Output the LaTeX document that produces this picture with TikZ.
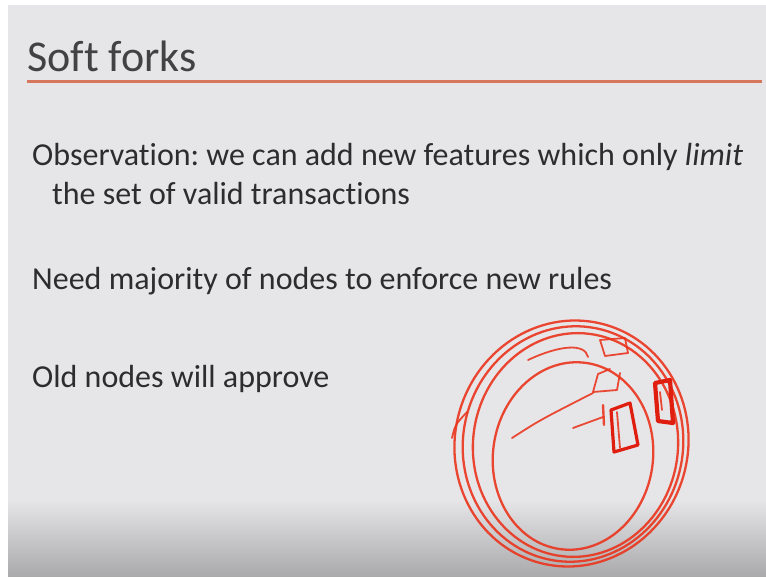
\documentclass[tikz,border=0pt]{standalone}
\usepackage{fontspec}
\setmainfont{Carlito}[Ligatures=NoCommon]
\frenchspacing
\definecolor{slidebg}{RGB}{230,230,233}
\definecolor{slidebot}{RGB}{170,170,172}
\definecolor{txt}{RGB}{45,45,48}
\definecolor{rule}{RGB}{214,118,92}
\definecolor{ink}{RGB}{234,52,28}
\definecolor{inkdark}{RGB}{224,30,15}
\tikzset{
  bodytext/.style={anchor=base west, inner sep=0pt, text=txt, font=\fontsize{32}{38}\selectfont},
  titletext/.style={anchor=base west, inner sep=0pt, text=txt!90, font=\fontsize{44}{52}\selectfont},
  loop/.style={draw=ink, line width=2.3pt, opacity=0.9},
  stroke/.style={draw=ink, line width=1.8pt, opacity=0.88, line cap=round, line join=round},
  boxstroke/.style={draw=inkdark, line width=3.2pt, line cap=round, line join=round},
}
\begin{document}
\begin{tikzpicture}[x=1pt,y=-1pt]
\useasboundingbox (0,0) rectangle (766,578);
\fill[white] (0,0) rectangle (766,578);
\fill[slidebg] (8,5) rectangle (766,500);
\shade[top color=slidebg, bottom color=slidebot] (8,499.5) rectangle (766,576);
% title and rule
\node[titletext] (title) at (27,72) {Soft forks};
\coordinate (ruleL) at (27,82);
\coordinate (ruleR) at (762,82);
\draw[rule, line width=3pt] (ruleL) -- (ruleR);
% body
\node[bodytext] (obs1) at (32,165) {Observation: we can add new features which only \textit{limit}};
\node[bodytext] (obs2) at (52,204) {the set of valid transactions};
\node[bodytext] (need) at (32,289) {Need majority of nodes to enforce new rules};
\node[bodytext] (old) at (32,387) {Old nodes will approve};
% scribble loops
\draw[loop, rotate around={-16:(571.5,443.5)}] (571.5,443.5) ellipse [x radius=116.5, y radius=123.5];
\draw[loop, rotate around={-11:(573,444)}] (573,444) ellipse [x radius=110, y radius=118];
\draw[loop, rotate around={-7:(575.5,445)}] (575.5,445) ellipse [x radius=102.5, y radius=112];
\draw[loop, rotate around={-8:(573,456)}] (573,456) ellipse [x radius=80, y radius=94];
% extra strokes
\draw[stroke] (452,438) .. controls (455,425) .. (467,412);
\draw[stroke] (528,360) .. controls (560,345) and (585,343) .. (588,357);
\draw[stroke] (512,438) .. controls (540,420) .. (593,393);
\draw[stroke] (573,428) -- (603,417);
\draw[stroke] (600,340) -- (625,338) -- (628,353) -- (605,356) -- cycle;
\draw[stroke] (610,369) -- (598,374) -- (593,392) -- (617,390) -- (620,373);
\draw[stroke, line width=2.4pt] (603,405) -- (604,425);
\draw[boxstroke] (611,410) -- (630,403) -- (638,445) -- (614,452) -- cycle;
\draw[stroke] (617,412) -- (620,448);
\draw[boxstroke, line width=4.2pt] (655,383) -- (670,380) -- (673,423) -- (658,421) -- cycle;
\draw[stroke] (660,392) -- (662,410);
\end{tikzpicture}
\end{document}
